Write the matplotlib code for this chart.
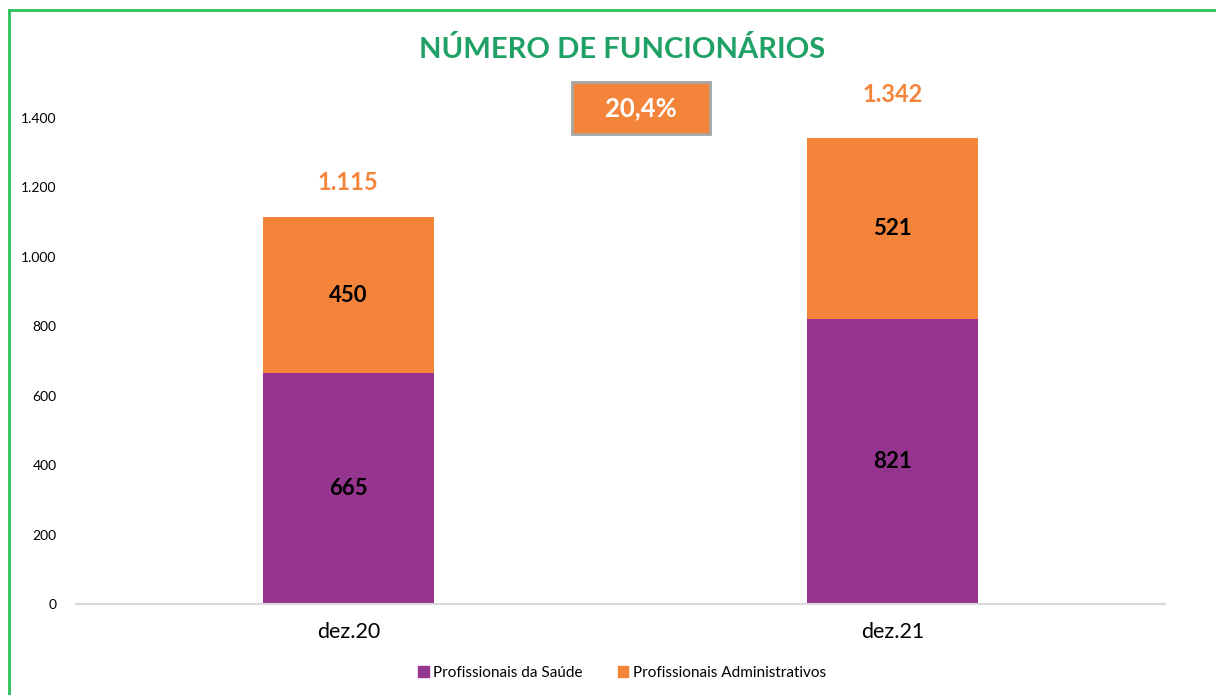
import matplotlib
matplotlib.use("Agg")

import matplotlib.pyplot as plt
from matplotlib.patches import Patch, Rectangle

# ---------------------------
# DATA
# ---------------------------
categories = ["dez.20", "dez.21"]
saude = [665, 821]
administrativos = [450, 521]
totais = [1115, 1342]
variacao = "20,4%"
yticks = [0, 200, 400, 600, 800, 1000, 1200, 1400]

# ---------------------------
# STYLE
# ---------------------------
PURPLE = "#953590"
ORANGE = "#F3843A"
GREEN = "#1FA065"
BORDER = "#2EC05A"

plt.rcParams["font.family"] = ["Lato", "DejaVu Sans"]

W, H = 1216, 695
fig = plt.figure(figsize=(W / 100, H / 100), dpi=100)
ax = fig.add_axes([76 / W, (H - 604) / H, (1165 - 76) / W, (604 - 118) / H])

x = list(range(len(categories)))
width = 0.314

ax.bar(x, saude, width, color=PURPLE, label="Profissionais da Saúde")
ax.bar(x, administrativos, width, bottom=saude, color=ORANGE,
       label="Profissionais Administrativos")

# offset of the total labels above each bar (data units)
total_offset = [98, 127]

# segment labels
for i in x:
    ax.text(i, saude[i] / 2, f"{saude[i]}", ha="center", va="center",
            fontsize=16, fontweight="bold", color="black")
    ax.text(i, saude[i] + administrativos[i] / 2, f"{administrativos[i]}",
            ha="center", va="center", fontsize=16, fontweight="bold", color="black")
    total_txt = f"{totais[i]:,}".replace(",", ".")
    ax.text(i, totais[i] + total_offset[i], total_txt, ha="center", va="center",
            fontsize=17, fontweight="bold", color=ORANGE, clip_on=False)

ax.set_xlim(-0.5, 1.5)
ax.set_ylim(0, 1400)
ax.set_xticks(x)
ax.set_xticklabels(categories, fontsize=15.5)
ax.set_yticks(yticks)
ax.set_yticklabels([f"{v:,}".replace(",", ".") for v in yticks], fontsize=10)
ax.tick_params(length=0)
ax.tick_params(axis="x", pad=13)
ax.tick_params(axis="y", pad=14)
for s in ["top", "right", "left"]:
    ax.spines[s].set_visible(False)
ax.spines["bottom"].set_color("#D9D9D9")
ax.spines["bottom"].set_linewidth(1.5)

# title
fig.text(622 / W, 1 - 50 / H, "NÚMERO DE FUNCIONÁRIOS", ha="center", va="center",
         fontsize=21, fontweight="bold", color=GREEN)

# variation box
fig.patches.append(Rectangle((572 / W, 1 - 134 / H), 138 / W, 52 / H,
                             transform=fig.transFigure, facecolor=ORANGE,
                             edgecolor="#A6A6A6", linewidth=2))
fig.text(641 / W, 1 - 108 / H, variacao, ha="center", va="center",
         fontsize=18.5, fontweight="bold", color="white")

# outer green border (left and top only visible)
fig.add_artist(plt.Line2D([9 / W, 9 / W], [0, 1 - 10 / H], color=BORDER,
                          linewidth=2, transform=fig.transFigure))
fig.add_artist(plt.Line2D([9 / W, 1], [1 - 10 / H, 1 - 10 / H], color=BORDER,
                          linewidth=2, transform=fig.transFigure))

# legend
handles = [Patch(color=PURPLE, label="Profissionais da Saúde"),
           Patch(color=ORANGE, label="Profissionais Administrativos")]
fig.legend(handles=handles, loc="center", bbox_to_anchor=(622 / W, 1 - 673 / H),
           ncol=2, frameon=False, fontsize=11, handlelength=0.7, handleheight=0.7,
           handletextpad=0.3, columnspacing=2.3)

fig.savefig("out.png", dpi=100)
